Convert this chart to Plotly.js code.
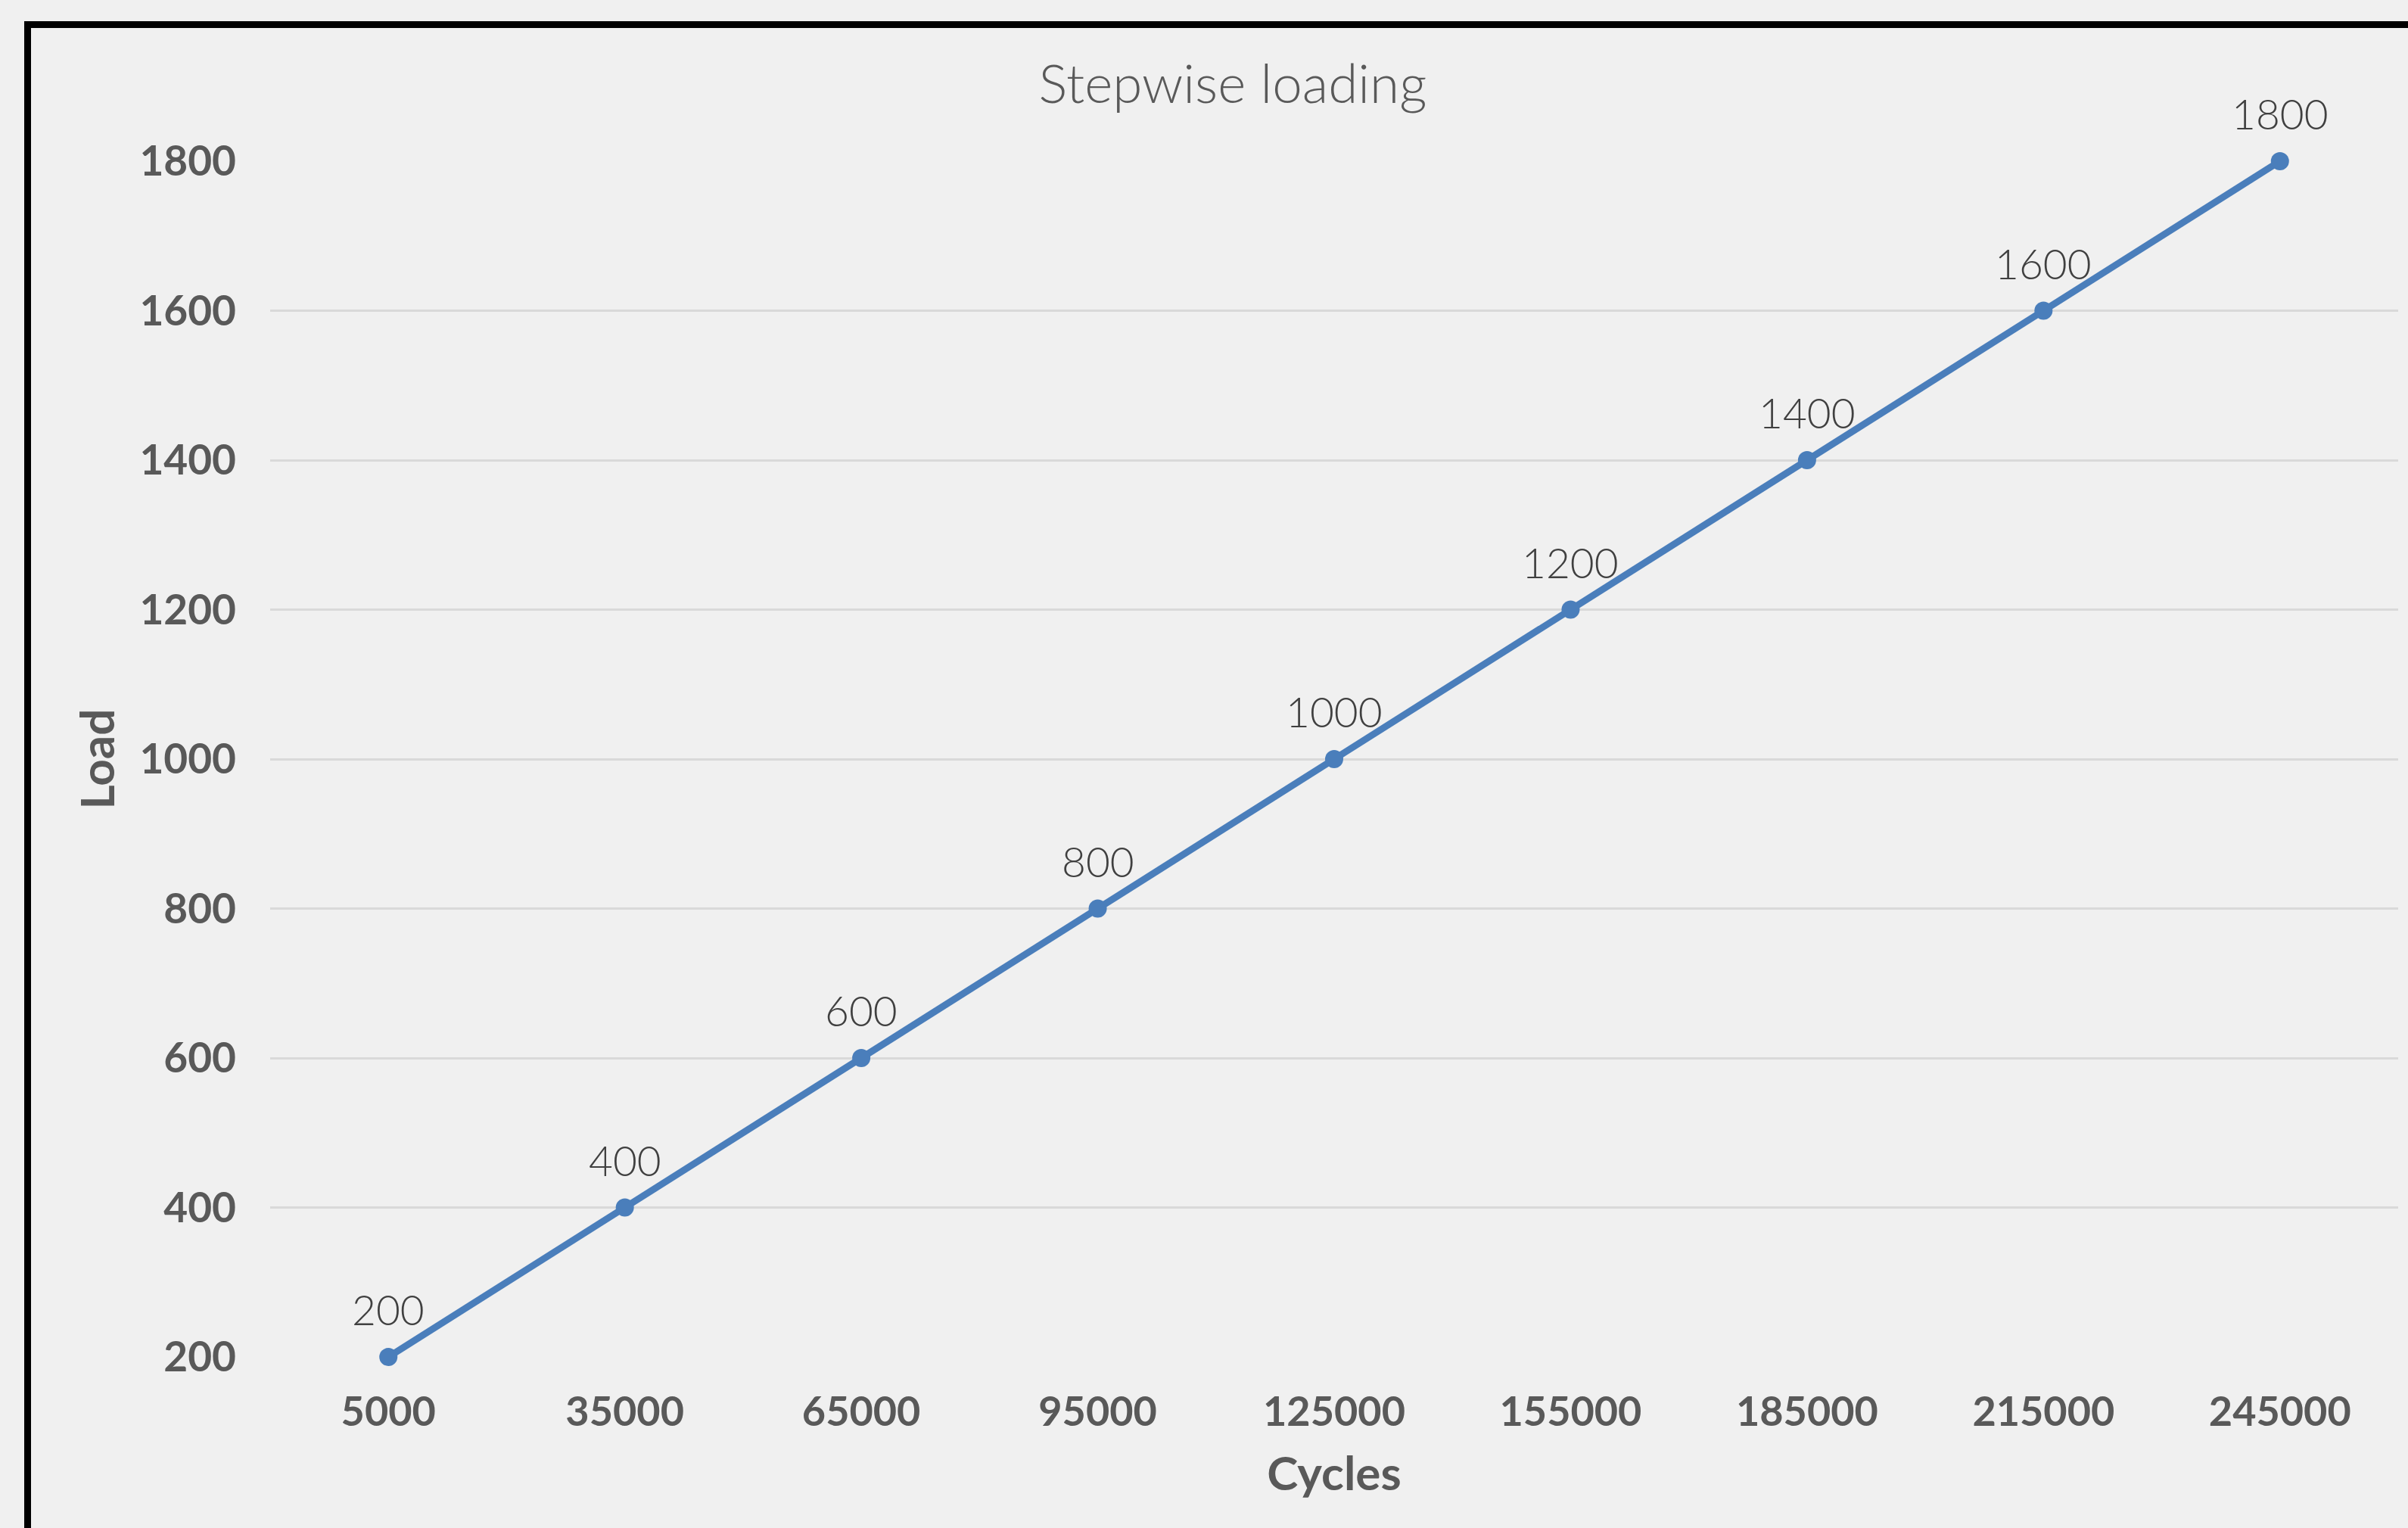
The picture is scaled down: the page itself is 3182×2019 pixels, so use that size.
<!DOCTYPE html>
<html>
<head>
<meta charset="utf-8">
<script src="https://cdn.plot.ly/plotly-3.0.1.min.js"></script>
<style>
  html, body { margin: 0; padding: 0; background: #f0f0f0; }
  #chart { width: 3182px; height: 2019px; }
</style>
</head>
<body>
<div id="chart"></div>
<script>
const cycles = [5000, 35000, 65000, 95000, 125000, 155000, 185000, 215000, 245000];
const loads = [200, 400, 600, 800, 1000, 1200, 1400, 1600, 1800];
const yTicks = [200, 400, 600, 800, 1000, 1200, 1400, 1600, 1800];
const chartTitle = "Stepwise loading";
const xTitle = "Cycles";
const yTitle = "Load";

const W = 3182, H = 2019;
const L = 357, R = 13, T = 213, B = 226;
const plotW = W - L - R, plotH = H - T - B;
function px2paperX(px) { return (px - L) / plotW; }
function px2paperY(py) { return (H - B - py) / plotH; }

const trace = {
  x: cycles,
  y: loads,
  type: 'scatter',
  mode: 'lines+markers',
  line: { color: '#4a7ebb', width: 9 },
  marker: { color: '#4a7ebb', size: 24 },
  cliponaxis: false,
  hoverinfo: 'x+y'
};

const labelAnnotations = cycles.map((c, i) => ({
  x: c, y: loads[i], xref: 'x', yref: 'y',
  text: String(loads[i]),
  showarrow: false,
  xanchor: 'center', yanchor: 'middle',
  yshift: 63,
  font: { family: 'Lato', size: 55, color: '#404040', weight: 300 }
}));

const layout = {
  width: W, height: H,
  paper_bgcolor: '#f0f0f0',
  plot_bgcolor: '#f0f0f0',
  margin: { l: L, r: R, t: T, b: B, pad: 0 },
  showlegend: false,
  font: { family: 'Lato', color: '#595959' },
  title: {
    text: chartTitle,
    font: { family: 'Lato', size: 71, color: '#595959', weight: 300 },
    x: 1629 / W,
    xanchor: 'center',
    y: 1 - 111 / H,
    yanchor: 'middle',
    yref: 'container'
  },
  xaxis: {
    range: [-10000, 260000],
    tickmode: 'array',
    tickvals: cycles,
    ticktext: cycles.map(String),
    showgrid: false,
    zeroline: false,
    showline: false,
    ticks: '',
    ticklabelstandoff: 36,
    tickfont: { family: 'Lato', size: 54, color: '#595959', weight: 'bold' },
    title: {
      text: xTitle,
      font: { family: 'Lato', size: 62, color: '#595959', weight: 'bold' },
      standoff: 30
    }
  },
  yaxis: {
    range: [200, 1800],
    tickmode: 'array',
    tickvals: yTicks,
    ticktext: yTicks.map(String),
    showgrid: true,
    gridcolor: '#d9d9d9',
    gridwidth: 3,
    zeroline: false,
    showline: false,
    ticks: '',
    ticklabelstandoff: 44,
    tickfont: { family: 'Lato', size: 55, color: '#595959', weight: 'bold' },
    title: {
      text: yTitle,
      font: { family: 'Lato', size: 62, color: '#595959', weight: 'bold' },
      standoff: 12
    }
  },
  annotations: labelAnnotations,
  shapes: [{
    type: 'rect',
    xref: 'paper', yref: 'paper',
    x0: px2paperX(36.5), x1: px2paperX(W + 50),
    y0: px2paperY(32.5), y1: px2paperY(H + 50),
    line: { color: '#000000', width: 9 },
    fillcolor: 'rgba(0,0,0,0)',
    layer: 'above'
  }]
};

Plotly.newPlot('chart', [trace], layout, { staticPlot: true, displayModeBar: false });
</script>
</body>
</html>
